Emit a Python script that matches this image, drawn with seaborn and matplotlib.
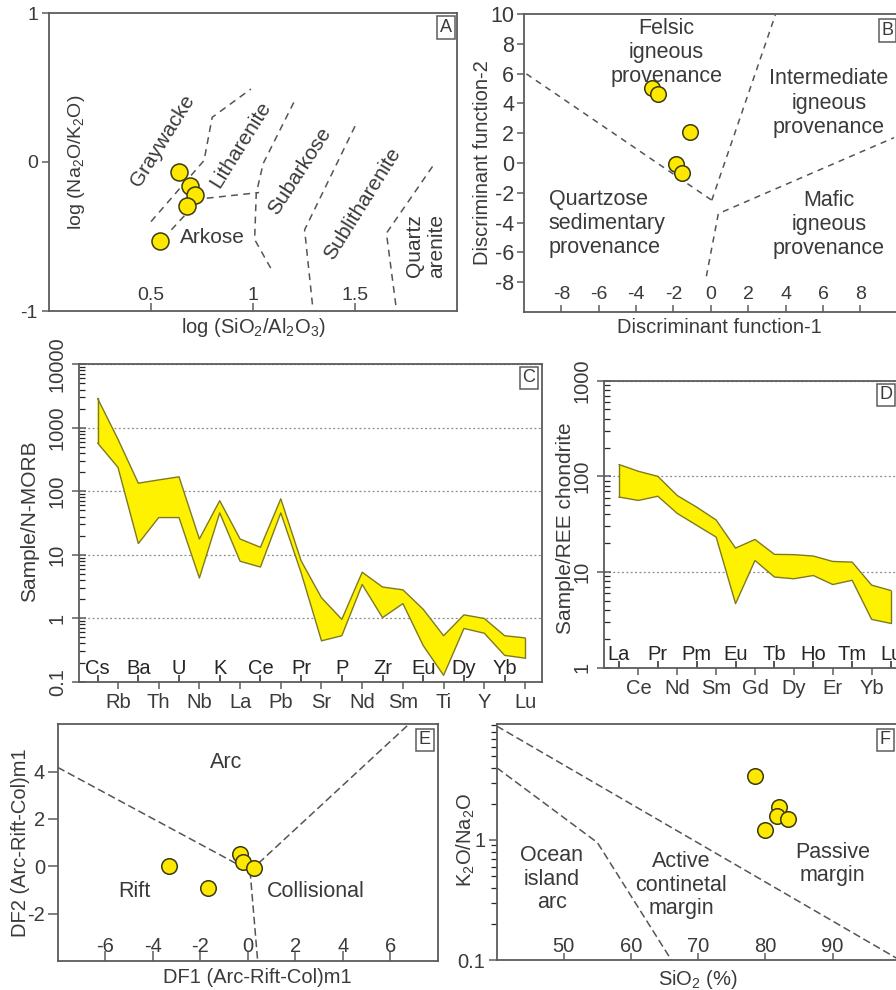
import matplotlib
matplotlib.use("Agg")
import matplotlib.pyplot as plt
import seaborn as sns
import numpy as np
import pandas as pd
from matplotlib.ticker import LogLocator, NullFormatter, FixedLocator

sns.set_theme(style="white")
plt.rcParams["font.family"] = ["Liberation Sans", "DejaVu Sans"]
plt.rcParams["mathtext.fontset"] = "custom"
plt.rcParams["mathtext.rm"] = "Liberation Sans"
plt.rcParams["mathtext.default"] = "regular"

TXT = "#3a3a3a"
EDGE = "#5c5c5c"
DASH = "#555555"
FILL = "#fff200"
BAND_EDGE = "#7f7a22"
DOT = "#ffe800"
DOT_EDGE = "#3a3a10"

# ---- A: sandstone classification ----
a_log_si_al = [0.636, 0.690, 0.714, 0.678, 0.546]
a_log_na_k = [-0.069, -0.158, -0.221, -0.292, -0.529]
a_bounds = [
    ([0.50, 0.76, 0.80, 0.99], [-0.40, 0.01, 0.30, 0.49]),
    ([0.60, 0.74, 1.03], [-0.455, -0.248, -0.205]),
    ([1.20, 1.05, 1.016, 1.008, 1.09], [0.40, -0.01, -0.21, -0.52, -0.72]),
    ([1.50, 1.253, 1.294], [0.24, -0.455, -0.99]),
    ([1.88, 1.654, 1.703], [-0.03, -0.478, -0.99]),
]

# ---- B: provenance discriminant functions ----
b_df1 = [-3.13, -2.83, -1.10, -1.85, -1.52]
b_df2 = [5.02, 4.62, 2.08, -0.04, -0.67]
b_bounds = [
    ([-9.87, 0.05], [5.98, -2.5]),
    ([0.05, 3.45], [-2.5, 9.93]),
    ([-0.24, 0.4, 9.8], [-7.6, -3.4, 1.7]),
]

# ---- C: N-MORB normalised spider diagram ----
c_elements = ["Cs", "Rb", "Ba", "Th", "U", "Nb", "K", "La", "Ce", "Pb", "Pr",
              "Sr", "P", "Nd", "Zr", "Sm", "Eu", "Ti", "Dy", "Y", "Yb", "Lu"]
c_upper = [2900, 660, 134, 151, 169, 17.7, 71, 17.7, 13.1, 76, 8.0,
           2.1, 0.96, 5.3, 3.1, 2.8, 1.38, 0.53, 1.13, 0.99, 0.53, 0.49]
c_lower = [575, 238, 15, 38.5, 38.5, 4.3, 45.6, 7.9, 6.4, 45.6, 5.2,
           0.44, 0.53, 3.4, 1.02, 1.7, 0.37, 0.126, 0.69, 0.58, 0.26, 0.235]

# ---- D: chondrite normalised REE ----
d_elements = ["La", "Ce", "Pr", "Nd", "Pm", "Sm", "Eu", "Gd", "Tb", "Dy",
              "Ho", "Er", "Tm", "Yb", "Lu"]
d_upper = [133, 113, 100, 63, 47.7, 35, 17.8, 21.9, 15.3, 15.2, 14.7, 12.9, 12.7, 7.3, 6.4]
d_lower = [60.8, 56, 62, 41, 30.8, 23.2, 4.67, 13.2, 8.87, 8.5, 9.2, 7.4, 8.2, 3.2, 2.9]

# ---- E: tectonic discrimination (Arc-Rift-Col) ----
e_df1 = [-3.30, -1.66, -0.32, -0.18, 0.25]
e_df2 = [0.01, -0.93, 0.53, 0.18, -0.06]
e_bounds = [
    ([-8.0, 0.1], [4.18, -0.2]),
    ([0.1, 6.74], [-0.2, 5.96]),
    ([0.1, 0.42], [-0.2, -4.0]),
]

# ---- F: SiO2 vs K2O/Na2O ----
f_sio2 = [78.5, 82.0, 81.8, 83.4, 80.0]
f_k2o_na2o = [3.44, 1.90, 1.58, 1.50, 1.20]
f_bounds = [
    ([40, 100], [8.9, 0.1]),
    ([40, 55, 66], [4.0, 0.95, 0.1]),
]

W, H = 896, 990
fig = plt.figure(figsize=(W / 100, H / 100), dpi=100)


def px_axes(left, top, right, bottom):
    return fig.add_axes([left / W, 1 - bottom / H, (right - left) / W, (bottom - top) / H])


def frame(ax):
    for s in ax.spines.values():
        s.set_visible(True)
        s.set_color(EDGE)
        s.set_linewidth(1.3)
    ax.set_facecolor("white")
    ax.tick_params(colors=EDGE, labelcolor=TXT, width=1.1)


def letter(ax, s, dx=0.012, dy=0.02):
    ax.text(1 - dx, 1 - dy, s, transform=ax.transAxes, ha="right", va="top",
            fontsize=13, color=TXT,
            bbox=dict(boxstyle="square,pad=0.15", fc="white", ec=EDGE, lw=1.1))


def dots(ax, x, y, s=130):
    sns.scatterplot(x=x, y=y, ax=ax, s=s, color=DOT, edgecolor=DOT_EDGE,
                    linewidth=1.1, zorder=5, legend=False)


def bounds(ax, lines, dashes=(4, 3)):
    for xs, ys in lines:
        ax.plot(xs, ys, color=DASH, lw=1.1, dashes=dashes, zorder=2)


def inside_x(ax, fs=14, pad=-20, length=6):
    ax.tick_params(axis="x", direction="in", length=length, pad=pad, labelsize=fs, bottom=True)


# ===== A =====
ax = px_axes(49, 13, 457, 311)
frame(ax)
bounds(ax, a_bounds, dashes=(4.5, 3.5))
dots(ax, a_log_si_al, a_log_na_k, s=150)
ax.set_xlim(0, 2)
ax.set_ylim(-1, 1)
ax.set_xticks([0.5, 1, 1.5], ["0.5", "1", "1.5"])
ax.set_yticks([-1, 0, 1], ["-1", "0", "1"])
inside_x(ax, fs=14, pad=-17)
ax.tick_params(axis="y", direction="out", length=5, pad=3, labelsize=14, left=True)
ax.set_ylabel("log (Na$_2$O/K$_2$O)", fontsize=14, color=TXT)
ax.yaxis.set_label_coords(0.093, 0.5)
ax.set_xlabel("log (SiO$_2$/Al$_2$O$_3$)", fontsize=14.5, color=TXT, va="top")
ax.xaxis.set_label_coords(0.5, -0.017)
kw = dict(fontsize=15, color=TXT, ha="center", va="center", rotation_mode="anchor")
ax.text(0.559, 0.143, "Graywacke", rotation=58, **kw)
ax.text(0.938, 0.114, "Litharenite", rotation=58, **kw)
ax.text(1.229, -0.058, "Subarkose", rotation=57, **kw)
ax.text(1.534, -0.281, "Sublitharenite", rotation=58, **kw)
ax.text(1.845, -0.5625, "Quartz\narenite", rotation=90, linespacing=1.2, **kw)
ax.text(0.799, -0.504, "Arkose", **kw)
letter(ax, "A")

# ===== B =====
ax = px_axes(524, 14, 897.7, 312)
frame(ax)
bounds(ax, b_bounds, dashes=(4, 3.5))
dots(ax, b_df1, b_df2, s=125)
ax.set_xlim(-10, 10)
ax.set_ylim(-10, 10)
ax.set_xticks(range(-8, 9, 2), [str(v) for v in range(-8, 9, 2)])
ax.set_yticks(range(-8, 11, 2), [str(v) for v in range(-8, 11, 2)])
inside_x(ax, fs=14, pad=-19, length=5)
ax.tick_params(axis="y", direction="out", length=5, pad=2, labelsize=15.5, left=True)
ax.set_ylabel("Discriminant function-2", fontsize=14.5, color=TXT)
ax.yaxis.set_label_coords(-0.086, 0.5)
ax.set_xlabel("Discriminant function-1", fontsize=14.5, color=TXT, va="top")
ax.xaxis.set_label_coords(0.524, -0.02)
kw = dict(fontsize=15.5, color=TXT, va="center", linespacing=1.2)
ax.text(-2.38, 7.43, "Felsic\nigneous\nprovenance", ha="center", **kw)
ax.text(6.31, 4.02, "Intermediate\nigneous\nprovenance", ha="center", **kw)
ax.text(-8.68, -4.08, "Quartzose\nsedimentary\nprovenance", ha="left", **kw)
ax.text(6.31, -4.13, "Mafic\nigneous\nprovenance", ha="center", **kw)
letter(ax, "B", dx=0.012, dy=0.027)


def spider(ax, elements, upper, lower, ylim, ylabel, label_x):
    frame(ax)
    idx = np.arange(len(elements))
    ax.fill_between(idx, lower, upper, facecolor=FILL, edgecolor="none", zorder=3)
    sns.lineplot(x=idx, y=upper, ax=ax, color=BAND_EDGE, lw=1.0, zorder=4, estimator=None)
    sns.lineplot(x=idx, y=lower, ax=ax, color=BAND_EDGE, lw=1.0, zorder=4, estimator=None)
    ax.plot([idx[-1], idx[-1]], [lower[-1], upper[-1]], color=BAND_EDGE, lw=1.0, zorder=4)
    ax.plot([idx[0], idx[0]], [lower[0], upper[0]], color=BAND_EDGE, lw=1.0, zorder=4)
    ax.set_yscale("log")
    ax.set_ylim(*ylim)
    ax.yaxis.set_major_locator(LogLocator(base=10))
    ax.yaxis.set_minor_locator(LogLocator(base=10, subs=np.arange(2, 10)))
    ax.yaxis.set_minor_formatter(NullFormatter())
    decades = [10.0 ** k for k in range(int(np.log10(ylim[0])), int(np.log10(ylim[1])) + 1)]
    ax.set_yticks(decades, [f"{d:g}" for d in decades])
    ax.grid(axis="y", which="major", color="#8a8a8a", lw=0.9, ls=(0, (1.5, 2)))
    ax.tick_params(axis="y", which="major", direction="inout", length=10, pad=4,
                   labelsize=14.5, labelrotation=90, left=True)
    ax.tick_params(axis="y", which="minor", direction="in", length=4, left=True,
                   width=0.9)
    for t in ax.get_yticklabels():
        t.set_va("center")
    odd = idx[1::2]
    even = idx[0::2]
    ax.set_xticks(odd, [elements[i] for i in odd])
    ax.set_xticks(even, [elements[i] for i in even], minor=True)
    ax.tick_params(axis="x", which="major", direction="out", length=5, pad=3,
                   labelsize=14.5, bottom=True)
    ax.tick_params(axis="x", which="minor", direction="in", length=5, pad=-16,
                   labelsize=14.5, bottom=True, width=1.1)
    ax.set_xlim(*label_x)
    ax.set_ylabel(ylabel, fontsize=15, color=TXT)


# ===== C =====
ax = px_axes(79.3, 364.3, 541.7, 681.7)
spider(ax, c_elements, c_upper, c_lower, (0.1, 10000), "Sample/N-MORB", (-0.9, 21.82))
ax.yaxis.set_label_coords(-0.087, 0.505)
letter(ax, "C", dx=0.014, dy=0.016)

# ===== D =====
ax = px_axes(604, 380.7, 906, 667.7)
spider(ax, d_elements, d_upper, d_lower, (1, 1000), "Sample/REE chondrite", (-0.77, 14.77))
ax.yaxis.set_label_coords(-0.096, 0.487)
letter(ax, "D", dx=0.045, dy=0.02)

# ===== E =====
ax = px_axes(57.7, 724.3, 437.7, 961)
frame(ax)
bounds(ax, e_bounds, dashes=(5, 2.5))
dots(ax, e_df1, e_df2, s=125)
ax.set_xlim(-8, 8)
ax.set_ylim(-4, 6)
ax.set_xticks(range(-6, 7, 2), [str(v) for v in range(-6, 7, 2)])
ax.set_yticks(range(-2, 5, 2), [str(v) for v in range(-2, 5, 2)])
inside_x(ax, fs=14.5, pad=-17, length=7)
ax.tick_params(axis="y", direction="out", length=7, pad=2, labelsize=14.5, left=True)
ax.set_ylabel("DF2 (Arc-Rift-Col)m1", fontsize=14.5, color=TXT)
ax.yaxis.set_label_coords(-0.073, 0.5)
ax.set_xlabel("DF1 (Arc-Rift-Col)m1", fontsize=14.5, color=TXT, va="top")
ax.xaxis.set_label_coords(0.524, -0.03)
kw = dict(fontsize=15.5, color=TXT, ha="center", va="center")
ax.text(-0.91, 4.39, "Arc", **kw)
ax.text(-4.77, -1.08, "Rift", **kw)
ax.text(2.88, -1.08, "Collisional", **kw)
letter(ax, "E", dx=0.018, dy=0.03)

# ===== F =====
ax = px_axes(496.7, 724.3, 899.7, 960)
frame(ax)
bounds(ax, f_bounds, dashes=(5, 2.5))
dots(ax, f_sio2, f_k2o_na2o, s=125)
ax.set_yscale("log")
ax.set_xlim(40, 100)
ax.set_ylim(0.1, 9.2)
ax.set_xticks(range(50, 100, 10), [str(v) for v in range(50, 100, 10)])
ax.set_yticks([0.1, 1], ["0.1", "1"])
ax.yaxis.set_minor_locator(LogLocator(base=10, subs=np.arange(2, 10)))
ax.yaxis.set_minor_formatter(NullFormatter())
inside_x(ax, fs=14.5, pad=-16.5, length=5)
ax.tick_params(axis="y", which="major", direction="out", length=6, pad=2, labelsize=14.5, left=True)
ax.tick_params(axis="y", which="minor", direction="out", length=4, left=True, width=0.9)
ax.set_ylabel("K$_2$O/Na$_2$O", fontsize=14.5, color=TXT)
ax.yaxis.set_label_coords(-0.049, 0.509)
ax.set_xlabel("SiO$_2$ (%)", fontsize=14.5, color=TXT, va="top")
ax.xaxis.set_label_coords(0.5, -0.034)
kw = dict(fontsize=15.5, color=TXT, ha="center", va="center", linespacing=1.15)
ax.text(48.2, 0.473, "Ocean\nisland\narc", **kw)
ax.text(67.5, 0.42, "Active\ncontinetal\nmargin", **kw)
ax.text(89.96, 0.63, "Passive\nmargin", **kw)
letter(ax, "F", dx=0.022, dy=0.03)

fig.savefig("out.png", dpi=100, facecolor="white")
